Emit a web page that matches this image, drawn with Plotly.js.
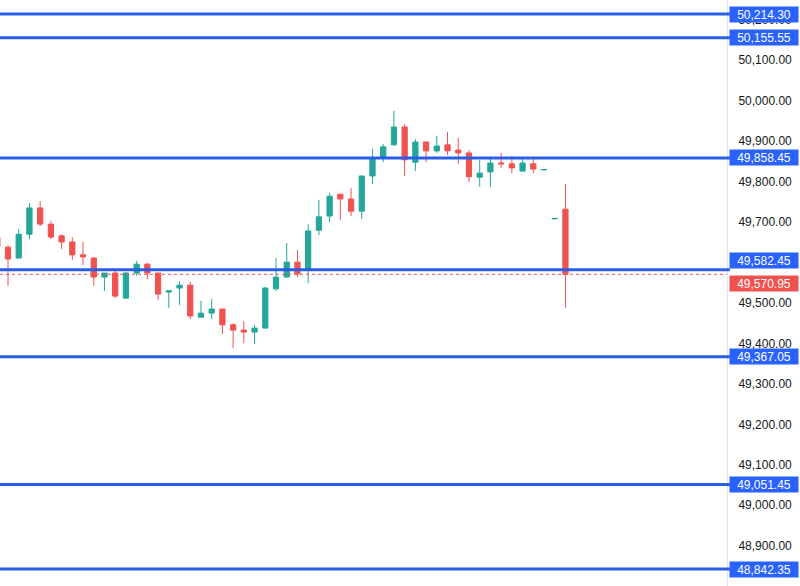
<!DOCTYPE html>
<html>
<head>
<meta charset="utf-8">
<script src="https://cdn.plot.ly/plotly-3.0.1.min.js"></script>
<style>html,body{margin:0;padding:0;background:#fff;}#chart{width:800px;height:586px;}</style>
</head>
<body>
<div id="chart"></div>
<script>
// bar index (time slots)
var bars = [-1,0,1,2,3,4,5,6,7,8,9,10,11,12,13,14,15,16,17,18,19,20,21,22,23,24,25,26,27,28,29,30,31,32,33,34,35,36,37,38,39,40,41,42,43,44,45,46,47,48,49,50,51,52];
var openVals = [49663,49638,49611,49670,49735,49695,49666,49651,49619,49611,49564,49574,49512,49574,49596,49574,49527,49537,49544,49465,49475,49485,49446,49433,49428,49438,49535,49564,49601,49582,49680,49715,49769,49757,49727,49814,49861,49891,49935,49848,49898,49876,49891,49878,49871,49811,49824,49846,49844,49826,49844,49829,49708,49732];
var highVals = [49673,49643,49683,49747,49752,49703,49670,49663,49651,49614,49574,49582,49577,49604,49599,49574,49530,49554,49552,49505,49510,49485,49450,49455,49446,49540,49611,49648,49631,49695,49755,49772,49769,49784,49814,49881,49893,49975,49942,49905,49898,49913,49923,49908,49878,49853,49861,49871,49863,49861,49856,49830,49709,49794];
var lowVals = [49631,49542,49611,49658,49690,49658,49633,49606,49594,49542,49530,49512,49512,49567,49559,49507,49488,49495,49460,49463,49460,49423,49389,49401,49399,49436,49530,49564,49564,49549,49668,49700,49705,49715,49708,49794,49848,49888,49814,49826,49848,49871,49866,49844,49799,49787,49787,49834,49821,49826,49821,49829,49708,49488];
var closeVals = [49638,49609,49670,49735,49695,49663,49651,49619,49614,49564,49574,49517,49574,49596,49574,49522,49530,49544,49468,49475,49485,49446,49433,49428,49438,49537,49564,49601,49572,49678,49713,49764,49757,49727,49814,49856,49886,49935,49854,49898,49876,49888,49876,49871,49812,49821,49846,49844,49834,49846,49831,49830,49709,49570.95];

// horizontal levels (blue lines) and last price
var levels = [50214.30, 50155.55, 49858.45, 49582.45, 49367.05, 49051.45, 48842.35];
var lastPrice = 49570.95;
var tickVals = [48800,48900,49000,49100,49200,49300,49400,49500,49700,49800,49900,50000,50100,50200];

var up = '#26a69a', down = '#ef5350', blue = '#2a5ee6', blueBox = '#2962ff';

var trace = {
  type: 'candlestick',
  x: bars, open: openVals, high: highVals, low: lowVals, close: closeVals,
  increasing: {line: {color: up, width: 1}, fillcolor: up},
  decreasing: {line: {color: down, width: 1}, fillcolor: down},
  whiskerwidth: 0,
  hoverinfo: 'skip'
};

function fmt(v){ return v.toLocaleString('en-US',{minimumFractionDigits:2, maximumFractionDigits:2}); }

var shapes = [];
var annotations = [];
levels.forEach(function(v){
  shapes.push({type:'line', xref:'paper', yref:'y', x0:0, x1:1.004, y0:v, y1:v, layer:'above',
    line:{color:blue, width:3}});
  annotations.push({xref:'paper', yref:'y', x:1, y:v, xanchor:'left', yanchor:'middle', xshift:2,
    text:fmt(v), showarrow:false, bgcolor:blueBox, width:68, height:15, borderpad:0, align:'center',
    font:{family:'Liberation Sans, Arial, sans-serif', size:12, color:'#ffffff'}});
});
shapes.push({type:'line', xref:'paper', yref:'y', x0:0, x1:1, y0:lastPrice, y1:lastPrice, layer:'above',
  line:{color:down, width:1, dash:'dot'}});
annotations.push({xref:'paper', yref:'y', x:1, y:lastPrice, xanchor:'left', yanchor:'top', xshift:2, yshift:-1,
  text:fmt(lastPrice), showarrow:false, bgcolor:down, width:68, height:15, borderpad:0, align:'center',
  font:{family:'Liberation Sans, Arial, sans-serif', size:12, color:'#ffffff'}});
// shift blue 49582.45 label up so both labels are readable
annotations[3].yanchor = 'bottom';
annotations[3].yshift = 1;

var layout = {
  width: 800, height: 586,
  margin: {l:0, r:73, t:0, b:0},
  paper_bgcolor: '#ffffff', plot_bgcolor: '#ffffff',
  showlegend: false,
  xaxis: {range: [-0.746, 67.07], visible: false, rangeslider: {visible: false}, fixedrange: true},
  yaxis: {range: [48800.4, 50249], side: 'right', showgrid: false, zeroline: false,
    tickvals: tickVals, tickformat: ',.2f', ticks: '', ticklabelstandoff: 8,
    showline: true, linecolor: '#e3e5ea', linewidth: 1,
    tickfont: {family:'Liberation Sans, Arial, sans-serif', size:12, color:'#131722'}},
  shapes: shapes,
  annotations: annotations
};

Plotly.newPlot('chart', [trace], layout, {displayModeBar:false, staticPlot:true});
</script>
</body>
</html>
